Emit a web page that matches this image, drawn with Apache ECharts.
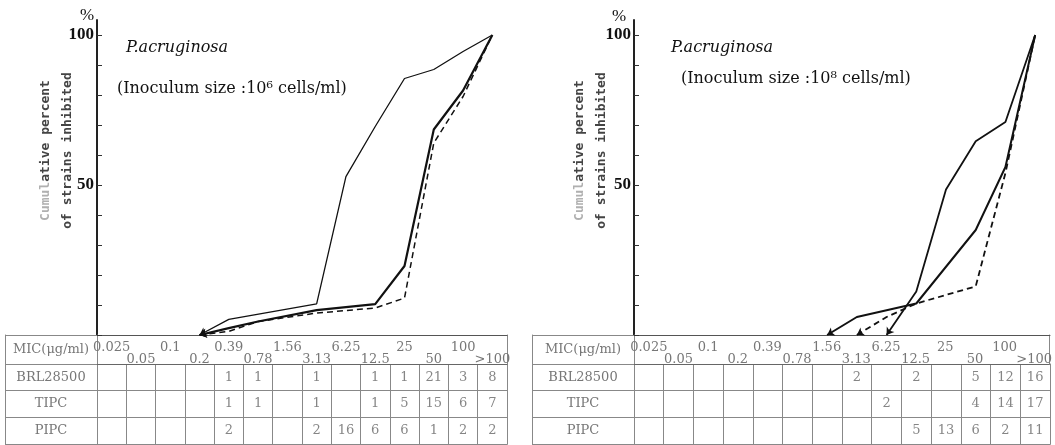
<!DOCTYPE html>
<html><head><meta charset="utf-8">
<script src="https://cdn.jsdelivr.net/npm/echarts@6/dist/echarts.min.js"></script>
<style>html,body{margin:0;padding:0;background:#fff}#c{width:1055px;height:445px}</style>
</head><body><div id="c"></div>
<script>
// ---------- data ----------
const categories = ['0.025','0.05','0.1','0.2','0.39','0.78','1.56','3.13','6.25','12.5','25','50','100','>100'];
const tableRows = ['BRL28500','TIPC','PIPC'];
const yTickValues = [0,10,20,30,40,50,60,70,80,90,100];
const yLabelValues = [50,100];

// Panel 1: inoculum 10^6 cells/ml  (cumulative %)
const p1_BRL28500 = [null,null,null,0,2.3,4.5,null,8.3,null,10.3,23,68.5,81.5,100];
const p1_TIPC     = [null,null,null,0,1.2,4.5,null,7.3,null,9,12.3,64,79.5,100];
const p1_PIPC     = [null,null,null,0,5.2,null,null,10.4,52.8,69.5,85.5,88.5,94.5,100];
// Panel 2: inoculum 10^8 cells/ml
const p2_BRL28500 = [null,null,null,null,null,null,0,6,null,10.5,null,35,56,100];
const p2_TIPC     = [null,null,null,null,null,null,null,0,6,10.5,null,16.2,54,100];
const p2_PIPC     = [null,null,null,null,null,null,null,null,0,14.5,48.5,64.6,71,100];

// Table counts (number of strains at each MIC)
const p1_count_BRL28500 = [null,null,null,null,1,1,null,1,null,1,1,21,3,8];
const p1_count_TIPC     = [null,null,null,null,1,1,null,1,null,1,5,15,6,7];
const p1_count_PIPC     = [null,null,null,null,2,null,null,2,16,6,6,1,2,2];
const p2_count_BRL28500 = [null,null,null,null,null,null,null,2,null,2,null,5,12,16];
const p2_count_TIPC     = [null,null,null,null,null,null,null,null,2,null,null,4,14,17];
const p2_count_PIPC     = [null,null,null,null,null,null,null,null,null,5,13,6,2,11];

const titles = ['(Inoculum size :10\u2076 cells/ml)', '(Inoculum size :10\u2078 cells/ml)'];

// ---------- layout ----------
const panels = [
  {left: 97,  width: 410, headW: 92,  lines: [p1_BRL28500, p1_TIPC, p1_PIPC],
   counts: [p1_count_BRL28500, p1_count_TIPC, p1_count_PIPC],
   rot: [104, 104, 119], widths: [2.2, 1.5, 1.3], nameGap: 18},
  {left: 634, width: 416, headW: 102, lines: [p2_BRL28500, p2_TIPC, p2_PIPC],
   counts: [p2_count_BRL28500, p2_count_TIPC, p2_count_PIPC],
   rot: [120, 121, 145], widths: [2, 1.8, 1.8], nameGap: 21}
];
const PLOT_TOP = 20, PLOT_H = 315, HEAD_H = 29, BODY_H = 80;
const tableFont = 'DejaVu Serif';
const lineCol = '#888';

const grid = [], xAxis = [], yAxis = [], series = [];

function mkData(arr, rot) {
  let first = true;
  return arr.map(v => {
    if (v === null) return null;
    if (first) { first = false; return {value: v, symbol: 'arrow', symbolSize: 7, symbolRotate: rot}; }
    return v;
  });
}
const hidden = {axisLabel: {show: false}, axisTick: {show: false}, splitLine: {show: false}};

panels.forEach((p, pi) => {
  const g = pi * 3, xi = pi * 4, yi = pi * 7;
  grid.push({left: p.left, top: PLOT_TOP, width: p.width, height: PLOT_H});
  grid.push({left: p.left, top: PLOT_TOP + PLOT_H, width: p.width, height: HEAD_H});
  grid.push({left: p.left, top: PLOT_TOP + PLOT_H + HEAD_H, width: p.width, height: BODY_H});

  // x axes
  xAxis.push({gridIndex: g, type: 'category', data: categories, boundaryGap: true,
    axisLine: {lineStyle: {color: '#555', width: 1}},
    axisTick: {inside: true, alignWithLabel: true, length: 5, interval: 0, lineStyle: {color: '#555'}},
    axisLabel: {show: false}, splitLine: {show: false}});
  xAxis.push({gridIndex: g + 1, type: 'category', data: categories, position: 'top',
    axisLine: {lineStyle: {color: '#666'}}, axisTick: {show: false},
    axisLabel: {inside: true, interval: 0, margin: 7, color: '#777', fontFamily: tableFont, fontSize: 13, lineHeight: 12,
      formatter: (v, i) => i % 2 === 0 ? v + '\n ' : ' \n' + v}});
  xAxis.push({gridIndex: g + 2, type: 'category', data: categories, position: 'bottom',
    axisLine: {lineStyle: {color: lineCol}}, axisTick: {show: false}, axisLabel: {show: false},
    splitLine: {show: true, interval: 0, lineStyle: {color: lineCol}}});
  xAxis.push({gridIndex: g + 2, type: 'category', data: categories, position: 'top',
    axisLine: {lineStyle: {color: lineCol}}, ...hidden});

  // y axes
  yAxis.push({gridIndex: g, type: 'value', min: 0, max: 105,
    axisLine: {show: true, lineStyle: {color: '#222', width: 2}},
    axisTick: {show: true, inside: true, length: 5, customValues: yTickValues, lineStyle: {color: '#333'}},
    axisLabel: {customValues: yLabelValues, margin: 3, color: '#111', fontFamily: 'Liberation Serif', fontSize: 17, fontWeight: 'bold'},
    splitLine: {show: false},
    name: '{a|Cumul}{b|ative percent}\n{b|of strains inhibited}',
    nameLocation: 'middle', nameRotate: 90, nameGap: p.nameGap, nameMoveOverlap: false,
    nameTextStyle: {fontFamily: 'DejaVu Sans Mono', fontSize: 13, lineHeight: 22, padding: [0, 0, 0, 54],
      rich: {a: {color: '#b0b0b0', fontFamily: 'DejaVu Sans Mono', fontSize: 13, fontWeight: 'bold', lineHeight: 22},
             b: {color: '#444', fontFamily: 'DejaVu Sans Mono', fontSize: 13, fontWeight: 'bold', lineHeight: 22}}}});
  yAxis.push({gridIndex: g + 1, type: 'category', data: ['MIC(\u03bcg/ml)'],
    axisLine: {show: true, lineStyle: {color: lineCol}},
    axisTick: {show: true, length: p.headW, interval: 0, lineStyle: {color: lineCol}},
    axisLabel: {margin: p.headW / 2, align: 'center', color: '#777', fontFamily: tableFont, fontSize: 13, padding: [0, 0, 5, 0]},
    splitLine: {show: false}});
  yAxis.push({gridIndex: g + 1, type: 'value', position: 'left', offset: p.headW,
    axisLine: {show: true, lineStyle: {color: lineCol}}, ...hidden});
  yAxis.push({gridIndex: g + 1, type: 'value', position: 'right',
    axisLine: {show: true, lineStyle: {color: lineCol}}, ...hidden});
  yAxis.push({gridIndex: g + 2, type: 'category', data: tableRows, inverse: true,
    axisLine: {show: true, lineStyle: {color: lineCol}},
    axisTick: {show: true, length: p.headW, interval: 0, lineStyle: {color: lineCol}},
    axisLabel: {margin: p.headW / 2, align: 'center', color: '#777', fontFamily: tableFont, fontSize: 13},
    splitLine: {show: true, interval: 0, lineStyle: {color: lineCol}}});
  yAxis.push({gridIndex: g + 2, type: 'value', position: 'left', offset: p.headW,
    axisLine: {show: true, lineStyle: {color: lineCol}}, ...hidden});
  yAxis.push({gridIndex: g + 2, type: 'value', position: 'right',
    axisLine: {show: true, lineStyle: {color: lineCol}}, ...hidden});

  // curves
  const styles = [
    {color: '#111', width: p.widths[0], type: 'solid'},
    {color: '#111', width: p.widths[1], type: [6, 4]},
    {color: '#111', width: p.widths[2], type: 'solid'}
  ];
  tableRows.forEach((name, si) => {
    series.push({type: 'line', name: name, xAxisIndex: xi, yAxisIndex: yi,
      data: mkData(p.lines[si], p.rot[si]), connectNulls: true, symbol: 'none',
      lineStyle: styles[si], itemStyle: {color: '#111'}, silent: true, z: 3 - si});
  });

  // table cells
  const cells = [];
  tableRows.forEach((name, ri) => {
    p.counts[ri].forEach((v, ci) => { if (v !== null) cells.push([ci, ri, v]); });
  });
  series.push({type: 'scatter', xAxisIndex: xi + 2, yAxisIndex: yi + 4, data: cells,
    symbolSize: 1, itemStyle: {color: 'rgba(0,0,0,0)'}, silent: true,
    label: {show: true, position: 'inside', formatter: q => q.value[2], color: '#666',
      fontFamily: tableFont, fontSize: 13}});
});

const titleStyle = {fontFamily: 'DejaVu Serif', fontSize: 16, fontWeight: 'normal', color: '#111'};
const title = [
  {text: 'P.acruginosa', left: 126, top: 40, padding: 0, textStyle: {...titleStyle, fontStyle: 'italic'}},
  {text: titles[0], left: 117, top: 81, padding: 0, textStyle: titleStyle},
  {text: '%', left: 80, top: 7, padding: 0, textStyle: {...titleStyle, fontFamily: 'Liberation Serif', fontSize: 17}},
  {text: 'P.acruginosa', left: 671, top: 40, padding: 0, textStyle: {...titleStyle, fontStyle: 'italic'}},
  {text: titles[1], left: 681, top: 71, padding: 0, textStyle: titleStyle},
  {text: '%', left: 612, top: 8, padding: 0, textStyle: {...titleStyle, fontFamily: 'Liberation Serif', fontSize: 17}}
];

const chart = echarts.init(document.getElementById('c'), null, {renderer: 'canvas'});
chart.setOption({animation: false, backgroundColor: '#fff', title, grid, xAxis, yAxis, series});
</script></body></html>
